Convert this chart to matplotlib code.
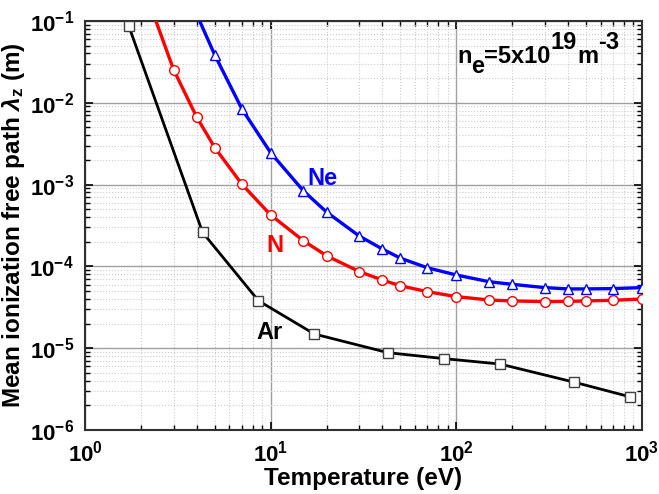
import matplotlib
matplotlib.use("Agg")
import matplotlib.pyplot as plt
from matplotlib.ticker import LogLocator, NullFormatter

plt.rcParams['font.family'] = ['Liberation Sans', 'DejaVu Sans']
plt.rcParams['mathtext.fontset'] = 'custom'
plt.rcParams['mathtext.rm'] = 'Liberation Sans:bold'
plt.rcParams['mathtext.bf'] = 'Liberation Sans:bold'
plt.rcParams['mathtext.it'] = 'Liberation Sans:bold:italic'

# Ar (black squares)
ar_temp = [1.72, 4.3, 8.6, 17.2, 43, 86, 172, 430, 860]
ar_path = [0.087, 2.6e-4, 3.8e-5, 1.49e-5, 8.8e-6, 7.45e-6, 6.4e-6, 3.85e-6, 2.55e-6]

# N (red circles)
n_temp = [2, 3, 4, 5, 7, 10, 15, 20, 30, 40, 50, 70, 100, 150, 200, 300, 400, 500, 700, 1000]
n_path = [0.32, 0.0254, 6.65e-3, 2.83e-3, 1.01e-3, 4.25e-4, 2.06e-4, 1.35e-4, 8.65e-5, 6.8e-5,
          5.8e-5, 4.9e-5, 4.27e-5, 3.88e-5, 3.78e-5, 3.71e-5, 3.73e-5, 3.78e-5, 3.85e-5, 3.99e-5]

# Ne (blue triangles)
ne_temp = [4, 5, 7, 10, 15, 20, 30, 40, 50, 70, 100, 150, 200, 300, 400, 500, 700, 1000]
ne_path = [0.12, 0.0384, 8.4e-3, 2.45e-3, 8.4e-4, 4.62e-4, 2.35e-4, 1.63e-4, 1.26e-4, 9.6e-5,
           7.85e-5, 6.5e-5, 6.03e-5, 5.5e-5, 5.3e-5, 5.3e-5, 5.35e-5, 5.5e-5]

fig = plt.figure(figsize=(6.59, 4.94), dpi=100)
ax = fig.add_axes([0.129, 0.1296, 0.845, 0.828])

ax.plot(ar_temp, ar_path, color='black', lw=2.0, marker='s', ms=6.5,
        mfc='white', mec='#404040', mew=1.0, zorder=3)
ax.plot(n_temp, n_path, color='#ff0000', lw=2.4, marker='o', ms=7,
        mfc='white', mec='#ff0000', mew=1.0, zorder=3)
ax.plot(ne_temp, ne_path, color='#0000ff', lw=2.4, marker='^', ms=7.5,
        mfc='white', mec='#0000ff', mew=1.0, zorder=3)

ax.set_xscale('log')
ax.set_yscale('log')
ax.set_xlim(1, 1000)
ax.set_ylim(1e-6, 1e-1)

ax.xaxis.set_major_locator(LogLocator(base=10, numticks=10))
ax.yaxis.set_major_locator(LogLocator(base=10, numticks=10))
ax.xaxis.set_minor_locator(LogLocator(base=10, subs=range(2, 10), numticks=20))
ax.yaxis.set_minor_locator(LogLocator(base=10, subs=range(2, 10), numticks=20))
ax.xaxis.set_minor_formatter(NullFormatter())
ax.yaxis.set_minor_formatter(NullFormatter())

ax.grid(True, which='major', color='#a0a0a0', lw=1.0, ls='-')
ax.grid(True, which='minor', color='#cccccc', lw=0.8, ls=':')
ax.set_axisbelow(True)

ax.tick_params(which='both', direction='in', top=True, right=True)
ax.tick_params(which='major', length=6, width=1.2, labelsize=16, pad=8)
ax.tick_params(which='minor', length=3.5, width=1.0)
for lab in ax.get_xticklabels() + ax.get_yticklabels():
    lab.set_fontweight('bold')
for sp in ax.spines.values():
    sp.set_linewidth(1.5)
    sp.set_color('#303030')

ax.set_xlabel('Temperature (eV)', fontsize=17.5, fontweight='bold', labelpad=0)
ax.set_ylabel(r'Mean ionization free path $\lambda_\mathregular{z}$ (m)', fontsize=17.5,
              fontweight='bold', labelpad=2)

ax.text(18.9, 9.9e-4, 'Ne', color='#0000ff', fontsize=17, fontweight='bold', ha='center', va='baseline')
ax.text(10.5, 1.5e-4, 'N', color='#ff0000', fontsize=17, fontweight='bold', ha='center', va='baseline')
ax.text(9.9, 1.29e-5, 'Ar', color='black', fontsize=17, fontweight='bold', ha='center', va='baseline')

# density note, with full-size sub/superscripts like the original
fs = 17
pieces = [('n', 0), ('e', -7), ('=5x10', 0), ('19', 10), ('m', 0), ('-3', 10)]
prev = ax.text(0.668, 0.897, pieces[0][0], transform=ax.transAxes, fontsize=fs,
               fontweight='bold', ha='left', va='baseline')
prev_shift = 0
for txt, shift in pieces[1:]:
    prev = ax.annotate(txt, xy=(1, 0), xycoords=prev, xytext=(0, shift - prev_shift),
                       textcoords='offset points', fontsize=fs, fontweight='bold',
                       ha='left', va='bottom')
    prev_shift = shift

fig.savefig('out.png', dpi=100)
